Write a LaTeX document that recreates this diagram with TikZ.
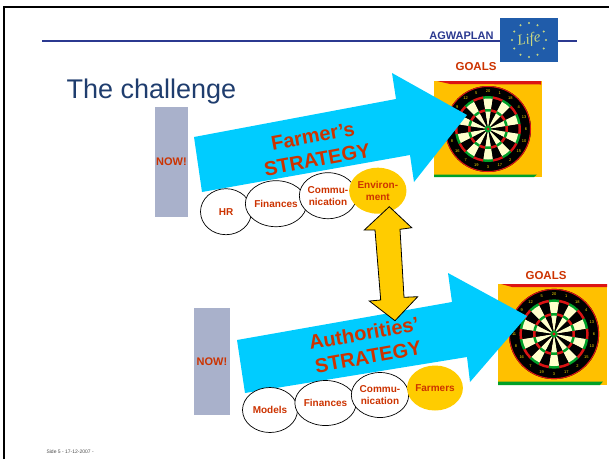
\documentclass[tikz,border=0pt]{standalone}
\usepackage{fontspec}
\setmainfont{Liberation Sans}
\newfontfamily\lifefont{Liberation Serif}
\usetikzlibrary{shapes.geometric}

\definecolor{slideblue}{RGB}{43,57,144}
\definecolor{titleblue}{RGB}{31,61,110}
\definecolor{labelred}{RGB}{204,51,0}
\definecolor{arrowcyan}{RGB}{0,204,255}
\definecolor{gold}{RGB}{255,204,0}
\definecolor{boardorange}{RGB}{255,192,0}
\definecolor{nowgray}{RGB}{169,177,203}
\definecolor{cream}{RGB}{255,255,204}
\definecolor{dartred}{RGB}{220,20,20}
\definecolor{dartgreen}{RGB}{0,160,40}
\definecolor{logoblue}{RGB}{32,92,170}
\definecolor{starcol}{RGB}{200,215,130}

\tikzset{
  topic/.style={ellipse, draw=black, fill=white, line width=0.7pt,
    minimum width=51pt, minimum height=46pt, inner sep=0pt,
    text=labelred, align=center, font=\bfseries\fontsize{10}{12}\selectfont},
  keytopic/.style={topic, draw=none, fill=gold},
  nowbar/.style={fill=nowgray, text=labelred, inner sep=0pt,
    font=\bfseries\fontsize{11}{13}\selectfont},
  goal/.style={text=labelred, font=\bfseries\fontsize{11.5}{13}\selectfont},
  strategy/.style={text=labelred, align=center, inner sep=0pt,
    font=\bfseries\fontsize{20}{24}\selectfont},
  dartnum/.style={text=yellow!80!orange, inner sep=0pt,
    font=\fontsize{4}{4}\selectfont},
}

% dart board: name, centre x, centre y, scale
\newcommand{\dartboard}[4]{%
  \begin{scope}[shift={(#2,#3)}, scale=#4]
    \coordinate (#1) at (0,0);
    \fill[black] (0,0) circle (43);
    \draw[dartred, line width=1pt] (0,0) circle (42.5);
    \foreach \rad/\cola/\colb in {33/dartgreen/dartred, 30.5/cream/black,
                                  20/dartgreen/dartred, 17.5/cream/black} {
      \foreach \i in {0,...,19} {
        \pgfmathsetmacro{\ang}{-99+18*\i}
        \pgfmathtruncatemacro{\odd}{mod(\i,2)}
        \ifnum\odd=0 \def\segcol{\cola}\else\def\segcol{\colb}\fi
        \fill[\segcol] (0,0) -- (\ang:\rad) arc[start angle=\ang, delta angle=18, radius=\rad] -- cycle;
      }
    }
    \fill[dartgreen] (0,0) circle (3.5);
    \fill[dartred] (0,0) circle (1.5);
    \foreach \n [count=\i from 0] in {20,1,18,4,13,6,10,15,2,17,3,19,7,16,8,11,14,9,12,5}
      \node[dartnum] (#1-\n) at (-90+18*\i:38) {\n};
  \end{scope}}

\begin{document}
\begin{tikzpicture}[x=1pt, y=-1pt]
  \useasboundingbox (0,0) rectangle (609,459);

  % slide frame and header
  \draw[black, line width=2pt] (4,459) -- (4,7) -- (609,7);
  \draw[slideblue, line width=2pt] (42,41) -- (577,41);
  \node[anchor=base east, text=slideblue, font=\bfseries\fontsize{11}{13}\selectfont]
    (brand) at (497,39) {AGWAPLAN};
  \node[fill=logoblue, minimum width=58pt, minimum height=44pt, inner sep=0pt] (logo) at (529,40) {};
  \foreach \k in {0,...,11}
    \fill[starcol] (529,40) ++(30*\k:17) circle (1.2);
  \node[text=starcol, font=\lifefont\itshape\fontsize{15}{15}\selectfont, rotate=10]
    (lifeword) at (529,40) {Life};

  \node[anchor=base west, text=titleblue, font=\fontsize{27}{30}\selectfont]
    (title) at (63,98) {The challenge};

  % goals: dart boards
  \fill[boardorange] (434,81) rectangle (542,177);
  \fill[dartred] (437,81) -- (541,81) -- (541,84.5) -- (450,84) -- cycle;
  \fill[dartgreen] (434,174.5) -- (537,174.5) -- (534,177) -- (434,177) -- cycle;
  \dartboard{board1}{488}{129}{1}
  \node[goal] (goals1) at (476,67) {GOALS};

  \fill[boardorange] (498,284) rectangle (607,385);
  \fill[dartred] (501,284) -- (607,284) -- (607,287) -- (512,287) -- cycle;
  \fill[dartgreen] (498,381.5) -- (603,381.5) -- (600,385) -- (498,385) -- cycle;
  \dartboard{board2}{554}{334}{1.05}
  \node[goal] (goals2) at (546,276) {GOALS};

  % strategy arrows
  \fill[arrowcyan] (194,137) -- (396,99) -- (392,73) -- (467,115) -- (414,182)
    -- (410,155) -- (202,192) -- cycle;
  \fill[arrowcyan] (237,340) -- (452,302) -- (448,273) -- (527,316) -- (470,382)
    -- (467,357) -- (245,393) -- cycle;

  % starting points
  \node[nowbar, minimum width=33pt, minimum height=110pt] (now1) at (171.5,162) {NOW!};
  \node[nowbar, minimum width=36pt, minimum height=107pt] (now2) at (212,361.5) {NOW!};

  % farmer's topics
  \node[topic] (hr) at (226,211.7) {HR};
  \node[topic] (fin1) at (276,203.7) {Finances};
  \node[topic] (com1) at (328,195.7) {Commu-\\nication};
  \node[keytopic] (env) at (377.8,190.7) {Environ-\\ment};

  % authorities' topics
  \node[topic, minimum width=55pt, minimum height=45pt] (models) at (270,410) {Models};
  \node[topic, minimum width=55pt, minimum height=45pt] (fin2) at (325.5,403) {Finances};
  \node[topic, minimum width=55pt, minimum height=45pt] (com2) at (380,395) {Commu-\\nication};
  \node[keytopic, minimum width=55pt, minimum height=45pt] (farmers) at (435,388) {Farmers};

  \node[strategy, rotate=10.5] (farmer) at (315,148) {Farmer’s\\STRATEGY};
  \node[strategy, rotate=10] (auth) at (366,345) {Authorities’\\STRATEGY};

  % link between the two
  \filldraw[fill=gold, draw=black, line width=0.8pt] (389.3,206.7) -- (411.7,227.7)
    -- (400,229.3) -- (404,297.3) -- (417.7,296.7) -- (395,320.7) -- (369.3,301)
    -- (380.7,300) -- (375,230) -- (364.3,230) -- cycle;

  \node[anchor=west, text=black!70, font=\fontsize{5}{6}\selectfont]
    (footer) at (43,452) {Side 5 - 17-12-2007 -};
\end{tikzpicture}
\end{document}
